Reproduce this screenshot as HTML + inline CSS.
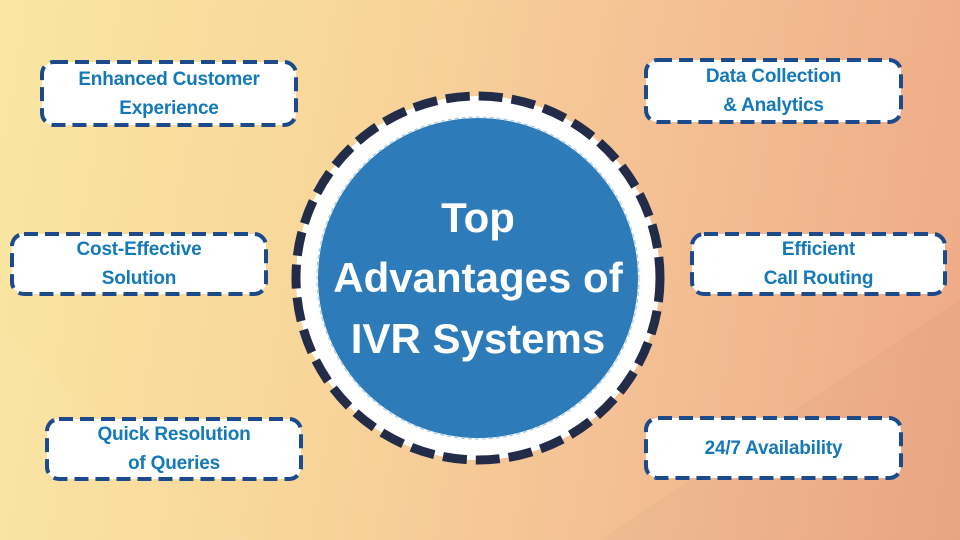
<!DOCTYPE html>
<html><head><style>
html,body{margin:0;padding:0}
body{width:960px;height:540px;position:relative;overflow:hidden;
background:linear-gradient(100deg,#fae6a2 0%,#f8d69a 35%,#f4c094 65%,#eea985 100%);
font-family:"Liberation Sans",sans-serif}
.t{position:absolute;display:flex;align-items:center;justify-content:center;text-align:center;color:#1479b8;font-weight:bold;font-size:19px;line-height:29px;letter-spacing:-0.2px}
</style></head><body>
<svg width="960" height="540" style="position:absolute;left:0;top:0">
<polygon points="0,540 0,330 250,540" fill="#ffffff" opacity="0.04"/>
<polygon points="600,540 960,300 960,540" fill="#000" opacity="0.02"/>
<circle cx="478" cy="278" r="182" fill="#fff" stroke="#222b48" stroke-width="9" stroke-dasharray="24 9"/>
<circle cx="478" cy="278" r="160" fill="#2d7bb9"/>
<circle cx="478" cy="278" r="161" fill="none" stroke="#a8cbe6" stroke-width="1.2" stroke-dasharray="4 3"/>
<text x="478" y="232" text-anchor="middle" font-family="Liberation Sans" font-weight="bold" font-size="42" fill="#fff">Top</text>
<text x="478" y="292" text-anchor="middle" font-family="Liberation Sans" font-weight="bold" font-size="42" fill="#fff">Advantages of</text>
<text x="478" y="353" text-anchor="middle" font-family="Liberation Sans" font-weight="bold" font-size="42" fill="#fff">IVR Systems</text>
<g fill="#fff" stroke="#1c4a8a" stroke-width="4" stroke-dasharray="14 7">
<rect x="42" y="62" width="254" height="63" rx="12"/>
<rect x="646" y="60" width="255" height="62" rx="12"/>
<rect x="12" y="234" width="254" height="60" rx="12"/>
<rect x="692" y="234" width="253" height="60" rx="12"/>
<rect x="47" y="419" width="254" height="60" rx="12"/>
<rect x="646" y="418" width="255" height="60" rx="12"/>
</g>
</svg>
<div class="t" style="left:40px;top:60px;width:258px;height:67px">Enhanced Customer<br>Experience</div>
<div class="t" style="left:644px;top:58px;width:259px;height:66px">Data Collection<br>&amp; Analytics</div>
<div class="t" style="left:10px;top:232px;width:258px;height:64px">Cost-Effective<br>Solution</div>
<div class="t" style="left:690px;top:232px;width:257px;height:64px">Efficient<br>Call Routing</div>
<div class="t" style="left:45px;top:417px;width:258px;height:64px">Quick Resolution<br>of Queries</div>
<div class="t" style="left:644px;top:416px;width:259px;height:64px">24/7 Availability</div>
</body></html>
